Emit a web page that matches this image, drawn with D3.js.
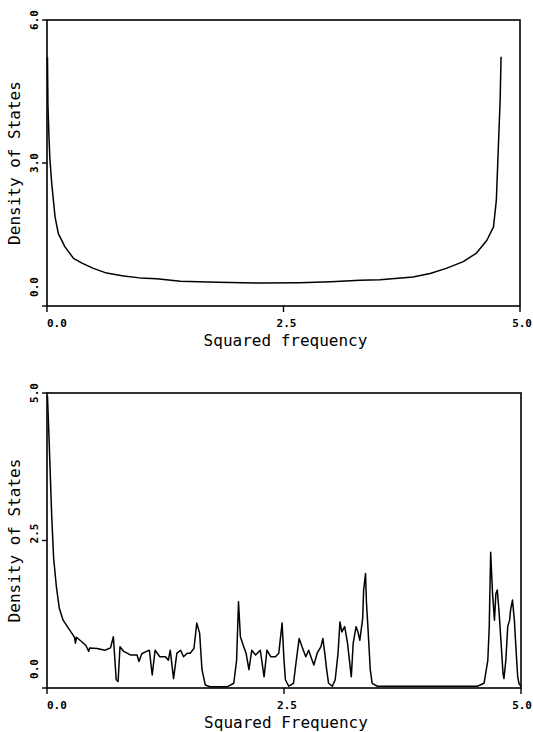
<!DOCTYPE html>
<html><head><meta charset="utf-8">
<script src="https://cdn.jsdelivr.net/npm/d3@7"></script>
<style>
html,body{margin:0;padding:0;background:#fff;}
svg{display:block;}
text{font-family:"DejaVu Sans Mono",monospace;fill:#000;}
</style></head>
<body>
<script>
// ---------- data ----------
const topXTicks = [0.0, 2.5, 5.0];
const topYTicks = [0.0, 3.0, 6.0];
const topXLabel = "Squared frequency";
const topYLabel = "Density of States";
const topFreq = [0.005,0.01,0.02,0.03,0.05,0.085,0.12,0.19,0.28,0.37,0.49,0.63,0.81,0.98,1.16,1.41,1.8,2.25,2.67,3.0,3.31,3.52,3.87,4.05,4.22,4.40,4.54,4.65,4.72,4.75,4.77,4.79,4.80];
const topDos  = [5.22,4.2,3.6,3.1,2.57,1.87,1.52,1.24,1.00,0.90,0.79,0.69,0.63,0.59,0.57,0.52,0.50,0.48,0.49,0.51,0.54,0.55,0.61,0.68,0.79,0.93,1.11,1.38,1.66,2.22,3.27,4.32,5.23];

const botXTicks = [0.0, 2.5, 5.0];
const botYTicks = [0.0, 2.5, 5.0];
const botXLabel = "Squared Frequency";
const botYLabel = "Density of States";
const botFreq = [0.005,0.02,0.035,0.05,0.07,0.10,0.13,0.17,0.24,0.29,0.30,0.31,0.37,0.41,0.44,0.45,0.53,0.61,0.67,0.70,0.73,0.75,0.77,0.81,0.88,0.95,0.97,1.00,1.05,1.08,1.11,1.14,1.19,
 1.25,1.28,1.30,1.335,1.37,1.41,1.44,1.48,1.51,1.55,1.58,1.61,1.635,1.67,1.72,1.90,1.97,2.00,2.02,2.04,2.075,2.10,2.13,2.16,2.20,2.25,2.29,2.32,2.36,2.41,2.445,2.48,2.50,2.515,2.55,2.60,2.63,2.66,2.69,2.73,2.76,2.79,2.815,2.85,2.89,2.91,2.93,2.95,2.97,3.01,3.04,3.07,3.09,3.11,3.14,3.17,3.19,3.21,3.23,3.26,3.28,3.30,3.33,3.34,3.36,3.37,3.385,3.41,3.43,3.485,
 4.54,4.61,4.65,4.665,4.68,4.70,4.72,4.735,4.75,4.77,4.79,4.81,4.82,4.84,4.86,4.88,4.89,4.91,4.93,4.95,4.965,4.98,5.0];
const botDos = [4.95,4.3,3.6,2.9,2.2,1.7,1.35,1.15,0.98,0.86,0.76,0.86,0.78,0.72,0.62,0.68,0.67,0.64,0.68,0.87,0.14,0.11,0.70,0.62,0.56,0.56,0.45,0.58,0.62,0.64,0.22,0.64,0.53,
 0.53,0.47,0.64,0.16,0.59,0.64,0.53,0.59,0.59,0.67,1.10,0.93,0.31,0.05,0.02,0.02,0.08,0.47,1.46,0.87,0.70,0.59,0.31,0.64,0.56,0.64,0.19,0.64,0.53,0.53,0.59,1.10,0.47,0.14,0.03,0.08,0.47,0.84,0.70,0.53,0.64,0.50,0.39,0.59,0.70,0.84,0.59,0.31,0.08,0.03,0.14,0.59,1.12,0.95,1.04,0.76,0.47,0.19,0.76,1.04,0.95,0.81,1.18,1.66,1.94,1.44,1.04,0.31,0.08,0.03,
 0.03,0.08,0.47,1.04,2.3,1.60,1.15,1.60,1.66,1.26,0.76,0.25,0.16,0.47,1.04,1.15,1.32,1.49,1.15,0.59,0.19,0.07,0.03];

// ---------- drawing ----------
const W = 533, H = 732;
const svg = d3.select("body").append("svg").attr("width", W).attr("height", H);

function panel(cfg) {
  const x = d3.scaleLinear().domain([0, 5]).range([cfg.left, cfg.right]);
  const y = d3.scaleLinear().domain([0, cfg.ymax]).range([cfg.bottom, cfg.top]);
  const g = svg.append("g");

  // frame
  g.append("rect").attr("x", cfg.left).attr("y", cfg.top)
    .attr("width", cfg.right - cfg.left).attr("height", cfg.bottom - cfg.top)
    .attr("fill", "none").attr("stroke", "#000").attr("stroke-width", 1.6);

  // x ticks
  g.selectAll(".xt").data(cfg.xTicks).enter().append("line")
    .attr("x1", d => x(d)).attr("x2", d => x(d))
    .attr("y1", cfg.bottom).attr("y2", cfg.bottom + 6)
    .attr("stroke", "#000").attr("stroke-width", 1.4);
  const nX = cfg.xTicks.length;
  g.selectAll(".xl").data(cfg.xTicks).enter().append("text")
    .attr("x", (d, i) => i === 0 ? x(d) : (i === nX - 1 ? W - 1 : x(d) + 3))
    .attr("y", cfg.bottom + 21)
    .attr("text-anchor", (d, i) => i === 0 ? "start" : (i === nX - 1 ? "end" : "middle"))
    .attr("font-size", 11).attr("font-weight", "bold")
    .text(d => d3.format(".1f")(d));

  // y ticks
  g.selectAll(".yt").data(cfg.yTicks).enter().append("line")
    .attr("x1", cfg.left - 5).attr("x2", cfg.left)
    .attr("y1", d => y(d)).attr("y2", d => y(d))
    .attr("stroke", "#000").attr("stroke-width", 1.4);
  g.selectAll(".yl").data(cfg.yTicks).enter().append("text")
    .attr("transform", (d, i) => {
      let yy = y(d);
      if (i === 0) yy -= 19;
      else if (i === cfg.yTicks.length - 1) yy = Math.max(yy, 15);
      else yy -= cfg.midShift;
      return `translate(${cfg.left - 9},${yy}) rotate(-90)`;
    })
    .attr("text-anchor", "middle")
    .attr("font-size", 11).attr("font-weight", "bold")
    .text(d => d3.format(".1f")(d));

  // axis titles
  g.append("text").attr("x", (cfg.left + cfg.right) / 2 + 2).attr("y", cfg.bottom + 40)
    .attr("text-anchor", "middle").attr("font-size", 16).text(cfg.xLabel);
  g.append("text")
    .attr("transform", `translate(20,${(cfg.top + cfg.bottom) / 2}) rotate(-90)`)
    .attr("text-anchor", "middle").attr("font-size", 16).text(cfg.yLabel);

  // curve
  const pts = cfg.xs.map((v, i) => [v, cfg.ys[i]]);
  g.append("path").datum(pts)
    .attr("d", d3.line().x(d => x(d[0])).y(d => y(d[1])))
    .attr("fill", "none").attr("stroke", "#000").attr("stroke-width", 1.5)
    .attr("stroke-linejoin", "round");
}

panel({left: 47, right: 520, top: 20, bottom: 306, ymax: 6,
  xTicks: topXTicks, yTicks: topYTicks, xLabel: topXLabel, yLabel: topYLabel,
  xs: topFreq, ys: topDos, midShift: 0});
panel({left: 47, right: 521, top: 393, bottom: 688, ymax: 5,
  xTicks: botXTicks, yTicks: botYTicks, xLabel: botXLabel, yLabel: botYLabel,
  xs: botFreq, ys: botDos, midShift: 7});
</script>
</body></html>
